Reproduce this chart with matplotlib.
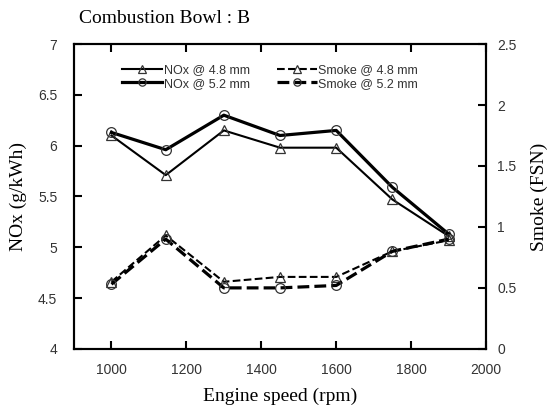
import matplotlib
matplotlib.use('Agg')
import matplotlib.pyplot as plt

speed = [1000, 1145, 1300, 1450, 1600, 1750, 1900]
nox_48 = [6.10, 5.71, 6.15, 5.98, 5.98, 5.47, 5.11]
nox_52 = [6.13, 5.96, 6.30, 6.10, 6.15, 5.59, 5.13]
smoke_48 = [0.55, 0.93, 0.55, 0.59, 0.59, 0.80, 0.89]
smoke_52 = [0.53, 0.90, 0.50, 0.50, 0.52, 0.80, 0.90]

serif = 'Liberation Serif'
sans = 'Liberation Sans'

fig = plt.figure(figsize=(5.48, 4.08), dpi=100)
ax = fig.add_axes([0.135, 0.145, 0.752, 0.747])
ax2 = ax.twinx()

mk = dict(markerfacecolor='none', markeredgecolor='#333333', markersize=7, markeredgewidth=0.9)
l1, = ax.plot(speed, nox_48, '-', color='black', lw=1.5, marker='^', **mk)
l2, = ax.plot(speed, nox_52, '-', color='black', lw=2.3, marker='o', **mk)
l3, = ax2.plot(speed, smoke_48, '--', color='black', lw=1.5, marker='^', **mk)
l4, = ax2.plot(speed, smoke_52, '--', color='black', lw=2.3, marker='o', **mk)

ax.set_xlim(900, 2000)
ax.set_ylim(4, 7)
ax2.set_ylim(0, 2.5)
ax.set_xticks(range(1000, 2001, 200))
ax.set_yticks([4, 4.5, 5, 5.5, 6, 6.5, 7])
ax.set_yticklabels(['4', '4.5', '5', '5.5', '6', '6.5', '7'])
ax2.set_yticks([0, 0.5, 1, 1.5, 2, 2.5])
ax2.set_yticklabels(['0', '0.5', '1', '1.5', '2', '2.5'])

for a in (ax, ax2):
    for s in a.spines.values():
        s.set_linewidth(1.5)
ax.tick_params(axis='x', direction='in', top=True, length=6, width=1.5, pad=10,
               labelsize=10, labelcolor='#333333')
ax.tick_params(axis='y', direction='in', length=6, width=1.5, pad=12,
               labelsize=10, labelcolor='#333333')
ax2.tick_params(axis='y', direction='in', length=6, width=1.5, pad=8,
                labelsize=10, labelcolor='#333333')
for lab in ax.get_xticklabels() + ax.get_yticklabels() + ax2.get_yticklabels():
    lab.set_fontfamily(sans)

ax.set_xlabel('Engine speed (rpm)', fontfamily=serif, fontsize=14, labelpad=8)
ax.set_ylabel('NOx (g/kWh)', fontfamily=serif, fontsize=14, labelpad=8)
ax2.set_ylabel('Smoke (FSN)', fontfamily=serif, fontsize=14, labelpad=10)
fig.text(0.145, 0.955, 'Combustion Bowl : B', fontfamily=serif, fontsize=14,
         va='center', ha='left')

leg = ax.legend([l1, l2, l3, l4],
                ['NOx @ 4.8 mm', 'NOx @ 5.2 mm', 'Smoke @ 4.8 mm', 'Smoke @ 5.2 mm'],
                ncol=2, loc='upper left', bbox_to_anchor=(0.09, 0.97),
                frameon=False, handlelength=3.2, handletextpad=0.1,
                columnspacing=2.2, labelspacing=0.1, markerscale=0.75,
                prop={'family': sans, 'size': 9})
for t in leg.get_texts():
    t.set_color('#333333')

plt.savefig('out.png', dpi=100)
plt.close(fig)
